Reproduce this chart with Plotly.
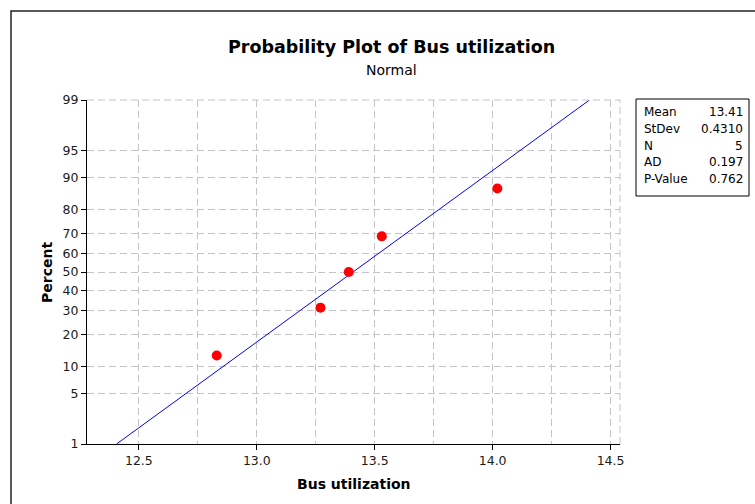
import plotly.graph_objects as go
from statistics import NormalDist

# ---- data ----
bus_utilization = [12.83, 13.27, 13.39, 13.53, 14.02]
percent = [12.96, 31.48, 50.0, 68.52, 87.04]
mean_value = 13.408
stdev_value = 0.4310
y_tick_percent = [1, 5, 10, 20, 30, 40, 50, 60, 70, 80, 90, 95, 99]
x_tick_values = [12.5, 13.0, 13.5, 14.0, 14.5]
stats_labels = ["Mean", "StDev", "N", "AD", "P-Value"]
stats_values = ["13.41", "0.4310", "5", "0.197", "0.762"]

nd = NormalDist()
def z(p):
    return nd.inv_cdf(p / 100.0)

FONT = "DejaVu Sans"
W, H = 755, 504
L, R, T, B = 87, 135, 100, 60
PW, PH = W - L - R, H - T - B

def px(xp):
    return (xp - L) / PW

def py(yp):
    return (H - B - yp) / PH

fig = go.Figure()

# fitted line
line_p = [y_tick_percent[0], y_tick_percent[-1]]
line_x = [mean_value + stdev_value * z(p) for p in line_p]
fig.add_trace(go.Scatter(x=line_x, y=[z(p) for p in line_p], mode="lines",
                         line=dict(color="#0000ff", width=1), hoverinfo="skip"))

# data points
fig.add_trace(go.Scatter(x=bus_utilization, y=[z(p) for p in percent], mode="markers",
                         marker=dict(color="#ff0000", size=10, line=dict(width=0))))

grid_col = "#c4c4c4"
dash = "7px,4px"
fig.update_xaxes(range=[12.28, 14.54], tickvals=x_tick_values,
                 ticktext=[f"{v:.1f}" for v in x_tick_values],
                 showgrid=True, gridcolor=grid_col, griddash=dash, gridwidth=1,
                 minor=dict(dtick=0.25, tick0=12.5, showgrid=True, gridcolor=grid_col,
                            griddash=dash, ticks=""),
                 showline=True, linecolor="black", linewidth=1,
                 ticks="outside", ticklen=5, tickcolor="black",
                 tickfont=dict(family=FONT, size=12.5, color="#1a1a1a"),
                 zeroline=False, fixedrange=True)
fig.update_yaxes(range=[z(y_tick_percent[0]), z(y_tick_percent[-1])],
                 tickvals=[z(p) for p in y_tick_percent],
                 ticktext=[str(p) for p in y_tick_percent],
                 showgrid=True, gridcolor=grid_col, griddash=dash, gridwidth=1,
                 showline=True, linecolor="black", linewidth=1,
                 ticks="outside", ticklen=5, tickcolor="black",
                 tickfont=dict(family=FONT, size=12.5, color="#1a1a1a"),
                 zeroline=False, fixedrange=True)

shapes = [
    # top and right plot borders (dashed gray)
    dict(type="line", xref="paper", yref="paper", x0=0, x1=1, y0=1, y1=1,
         line=dict(color=grid_col, width=1, dash=dash)),
    dict(type="line", xref="paper", yref="paper", x0=1, x1=1, y0=0, y1=1,
         line=dict(color=grid_col, width=1, dash=dash)),
    # outer frame
    dict(type="rect", xref="paper", yref="paper", x0=px(11), x1=px(790),
         y0=py(540), y1=py(11), line=dict(color="#222222", width=1.5)),
    # stats box
    dict(type="rect", xref="paper", yref="paper", x0=px(636), x1=px(749),
         y0=py(196), y1=py(99), line=dict(color="black", width=1)),
]

annotations = [
    dict(text="<b>Probability Plot of Bus utilization</b>", x=px(391), y=py(47),
         xref="paper", yref="paper", showarrow=False, xanchor="center", yanchor="middle",
         font=dict(family=FONT, size=17.5, color="black")),
    dict(text="Normal", x=px(391), y=py(70), xref="paper", yref="paper", showarrow=False,
         xanchor="center", yanchor="middle", font=dict(family=FONT, size=14, color="black")),
    dict(text="<b>Percent</b>", x=px(47), y=0.5, xref="paper", yref="paper", showarrow=False,
         textangle=-90, xanchor="center", yanchor="middle",
         font=dict(family=FONT, size=14, color="black")),
    dict(text="<b>Bus utilization</b>", x=0.5, y=py(484), xref="paper", yref="paper",
         showarrow=False, xanchor="center", yanchor="middle",
         font=dict(family=FONT, size=14, color="black")),
]
row_y = [112, 129, 145.5, 162, 179]
for lab, val, ry in zip(stats_labels, stats_values, row_y):
    annotations.append(dict(text=lab, x=px(642), y=py(ry), xref="paper", yref="paper",
                            showarrow=False, xanchor="left", yanchor="middle",
                            font=dict(family=FONT, size=12, color="black")))
    annotations.append(dict(text=val, x=px(745), y=py(ry), xref="paper", yref="paper",
                            showarrow=False, xanchor="right", yanchor="middle",
                            font=dict(family=FONT, size=12, color="black")))

fig.update_layout(width=W, height=H, margin=dict(l=L, r=R, t=T, b=B, autoexpand=False),
                  paper_bgcolor="white", plot_bgcolor="white", showlegend=False,
                  shapes=shapes, annotations=annotations,
                  font=dict(family=FONT))

fig.write_html("out.html", config={"displayModeBar": False},
               post_script="document.body.style.margin='0';document.body.style.padding='0';")
